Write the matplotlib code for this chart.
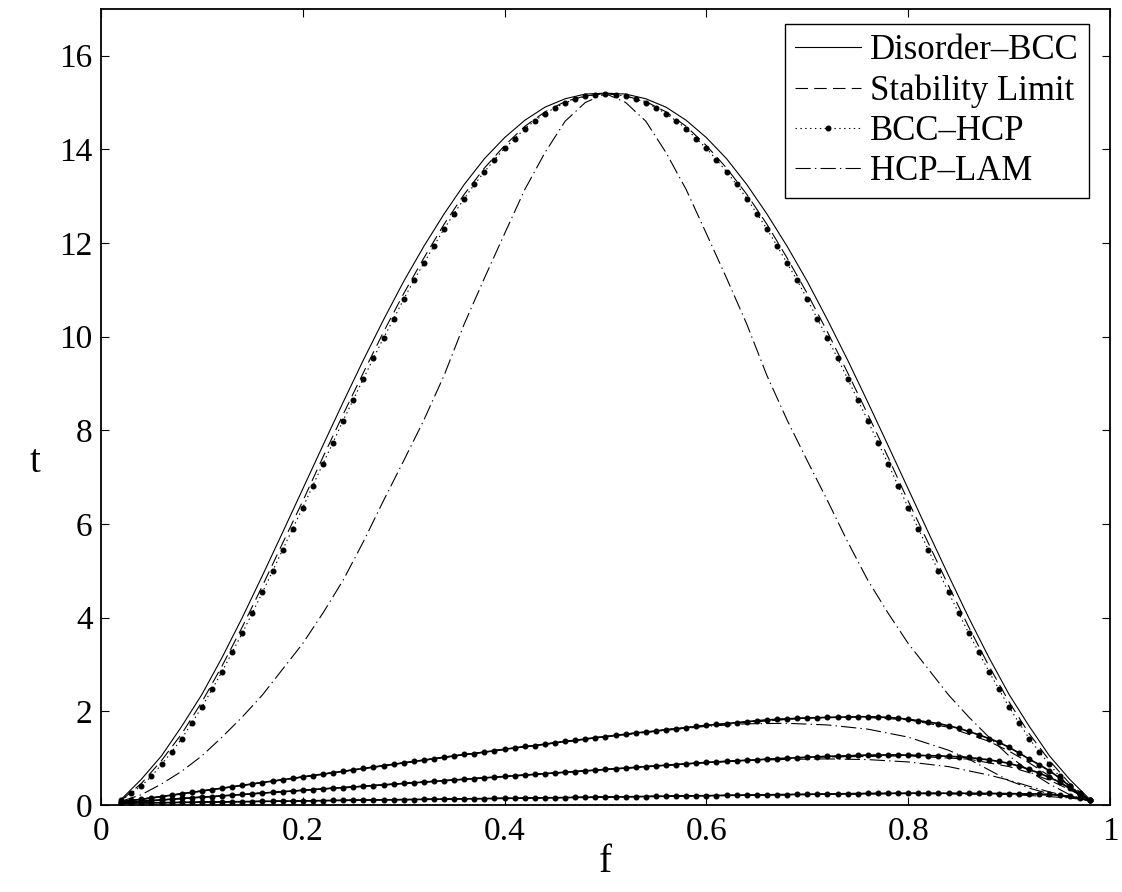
import numpy as np
import matplotlib
matplotlib.use("Agg")
import matplotlib.pyplot as plt
from matplotlib.lines import Line2D

# --- data ---
# fine grid used for the BCC-HCP (dotted + marker) curves
f_fine = np.round(np.arange(0.02, 0.9801, 0.01), 2)

bcc_hcp_top = [0.10, 0.25, 0.41, 0.61, 0.87, 1.13, 1.42, 1.75, 2.09, 2.47,
               2.85, 3.26, 3.67, 4.10, 4.54, 4.99, 5.45, 5.90, 6.35, 6.82,
               7.29, 7.74, 8.21, 8.65, 9.10, 9.54, 9.97, 10.38, 10.80, 11.20,
               11.57, 11.94, 12.30, 12.63, 12.95, 13.25, 13.52, 13.78, 14.02, 14.23,
               14.44, 14.61, 14.76, 14.89, 14.99, 15.08, 15.13, 15.17, 15.19,
               15.17, 15.13, 15.08, 14.99, 14.89, 14.76, 14.61, 14.44, 14.23, 14.02,
               13.78, 13.52, 13.25, 12.95, 12.63, 12.30, 11.94, 11.57, 11.20, 10.80,
               10.38, 9.97, 9.54, 9.10, 8.65, 8.21, 7.74, 7.29, 6.82, 6.35,
               5.90, 5.45, 4.99, 4.54, 4.10, 3.67, 3.26, 2.85, 2.47, 2.09,
               1.75, 1.42, 1.13, 0.87, 0.61, 0.41, 0.25, 0.10]

bcc_hcp_a = [0.07, 0.10, 0.12, 0.15, 0.18, 0.21, 0.24, 0.27, 0.30, 0.33,
             0.36, 0.39, 0.42, 0.45, 0.48, 0.51, 0.54, 0.57, 0.60, 0.63,
             0.66, 0.69, 0.72, 0.75, 0.78, 0.81, 0.84, 0.87, 0.90, 0.93,
             0.96, 0.99, 1.02, 1.05, 1.08, 1.10, 1.13, 1.16, 1.19, 1.22,
             1.25, 1.27, 1.30, 1.33, 1.36, 1.38, 1.41, 1.44, 1.46, 1.49,
             1.51, 1.54, 1.56, 1.58, 1.61, 1.63, 1.65, 1.68, 1.70, 1.72,
             1.74, 1.76, 1.78, 1.80, 1.815, 1.83, 1.84, 1.85, 1.86, 1.865,
             1.87, 1.875, 1.88, 1.885, 1.885, 1.88, 1.87, 1.855, 1.83, 1.80,
             1.77, 1.74, 1.69, 1.64, 1.57, 1.50, 1.42, 1.34, 1.23, 1.11,
             0.98, 0.86, 0.73, 0.58, 0.40, 0.24, 0.11]

bcc_hcp_b = [0.05, 0.065, 0.08, 0.095, 0.11, 0.125, 0.14, 0.155, 0.17, 0.18,
             0.195, 0.21, 0.225, 0.24, 0.255, 0.27, 0.285, 0.30, 0.315, 0.33,
             0.345, 0.36, 0.37, 0.385, 0.40, 0.415, 0.43, 0.445, 0.46, 0.475,
             0.49, 0.505, 0.52, 0.535, 0.55, 0.565, 0.58, 0.595, 0.61, 0.625,
             0.64, 0.655, 0.67, 0.685, 0.70, 0.715, 0.73, 0.745, 0.76, 0.775,
             0.79, 0.805, 0.82, 0.835, 0.85, 0.865, 0.88, 0.895, 0.91, 0.92,
             0.935, 0.945, 0.955, 0.965, 0.98, 0.99, 1.00, 1.01, 1.02, 1.03,
             1.04, 1.045, 1.05, 1.06, 1.065, 1.065, 1.07, 1.07, 1.065, 1.06,
             1.055, 1.05, 1.04, 1.03, 1.015, 0.99, 0.965, 0.93, 0.89, 0.83,
             0.76, 0.68, 0.59, 0.49, 0.36, 0.22, 0.10]

bcc_hcp_c = [0.040, 0.043, 0.045, 0.048, 0.051, 0.053, 0.056, 0.059, 0.062, 0.064,
             0.067, 0.070, 0.072, 0.075, 0.078, 0.081, 0.083, 0.086, 0.089, 0.091,
             0.094, 0.097, 0.100, 0.102, 0.105, 0.108, 0.110, 0.113, 0.116, 0.118,
             0.121, 0.124, 0.127, 0.129, 0.132, 0.135, 0.137, 0.140, 0.143, 0.145,
             0.148, 0.151, 0.154, 0.156, 0.159, 0.162, 0.164, 0.167, 0.170, 0.173,
             0.176, 0.179, 0.182, 0.185, 0.188, 0.191, 0.194, 0.197, 0.200, 0.203,
             0.206, 0.209, 0.212, 0.215, 0.218, 0.221, 0.224, 0.227, 0.230, 0.233,
             0.236, 0.239, 0.242, 0.245, 0.247, 0.249, 0.250, 0.251, 0.252, 0.252,
             0.252, 0.252, 0.252, 0.251, 0.250, 0.249, 0.248, 0.246, 0.244, 0.241,
             0.238, 0.234, 0.225, 0.210, 0.185, 0.145, 0.100]

# coarse grid for the large family (solid / dashed / dash-dot)
f_coarse = np.round(np.arange(0.02, 0.9801, 0.02), 2)

disorder_top = [0.12, 0.55, 1.05, 1.68, 2.36, 3.15, 4.00, 4.90, 5.82, 6.75,
                7.68, 8.60, 9.50, 10.36, 11.18, 11.93, 12.62, 13.25, 13.80, 14.25,
                14.62, 14.90, 15.08, 15.18, 15.20,
                15.18, 15.08, 14.90, 14.62, 14.25, 13.80, 13.25, 12.62, 11.93, 11.18,
                10.36, 9.50, 8.60, 7.68, 6.75, 5.82, 4.90, 4.00, 3.15, 2.36,
                1.68, 1.05, 0.55, 0.12]

stability_top = [0.10, 0.46, 0.95, 1.52, 2.20, 2.97, 3.80, 4.68, 5.59, 6.49,
                 7.43, 8.34, 9.23, 10.10, 10.92, 11.68, 12.40, 13.04, 13.60, 14.08,
                 14.49, 14.80, 15.02, 15.14, 15.19,
                 15.14, 15.02, 14.80, 14.49, 14.08, 13.60, 13.04, 12.40, 11.68, 10.92,
                 10.10, 9.23, 8.34, 7.43, 6.49, 5.59, 4.68, 3.80, 2.97, 2.20,
                 1.52, 0.95, 0.46, 0.10]

hcp_lam_top = [0.08, 0.22, 0.45, 0.72, 1.05, 1.45, 1.88, 2.35, 2.90, 3.45,
               4.10, 4.80, 5.62, 6.50, 7.35, 8.22, 9.17, 10.27, 11.25, 12.20,
               13.14, 13.93, 14.60, 15.00, 15.19,
               15.00, 14.60, 13.93, 13.14, 12.20, 11.25, 10.27, 9.17, 8.22, 7.35,
               6.50, 5.62, 4.80, 4.10, 3.45, 2.90, 2.35, 1.88, 1.45, 1.05,
               0.72, 0.45, 0.22, 0.08]

# lower families: dashed (stability) and dash-dot (HCP-LAM) companions
f_stab_a = [0.02, 0.10, 0.20, 0.30, 0.40, 0.50, 0.60, 0.70, 0.75, 0.80, 0.84, 0.88, 0.90, 0.92, 0.94, 0.96, 0.98]
stab_a = [0.07, 0.30, 0.60, 0.90, 1.19, 1.46, 1.70, 1.86, 1.88, 1.82, 1.66, 1.36, 1.15, 0.90, 0.62, 0.35, 0.10]
f_lam_a = [0.02, 0.10, 0.20, 0.30, 0.40, 0.50, 0.55, 0.60, 0.64, 0.68, 0.72, 0.76, 0.80, 0.84, 0.86, 0.88, 0.90, 0.92, 0.94, 0.96, 0.98]
lam_a = [0.07, 0.30, 0.60, 0.90, 1.19, 1.46, 1.575, 1.68, 1.735, 1.745, 1.71, 1.62, 1.45, 1.17, 0.98, 0.75, 0.52, 0.36, 0.24, 0.16, 0.10]

f_stab_b = [0.02, 0.20, 0.40, 0.60, 0.70, 0.80, 0.86, 0.90, 0.92, 0.94, 0.96, 0.98]
stab_b = [0.05, 0.315, 0.61, 0.91, 1.02, 1.05, 0.98, 0.82, 0.69, 0.53, 0.33, 0.10]
f_lam_b = [0.02, 0.20, 0.40, 0.60, 0.64, 0.68, 0.72, 0.76, 0.80, 0.84, 0.88, 0.90, 0.92, 0.94, 0.96, 0.98]
lam_b = [0.05, 0.315, 0.61, 0.905, 0.95, 0.975, 0.985, 0.97, 0.92, 0.82, 0.64, 0.53, 0.40, 0.28, 0.18, 0.10]

f_c_aux = [0.02, 0.30, 0.60, 0.80, 0.90, 0.94, 0.96, 0.98]
stab_c = [0.04, 0.116, 0.20, 0.25, 0.24, 0.21, 0.17, 0.10]
lam_c = [0.04, 0.116, 0.20, 0.245, 0.225, 0.18, 0.15, 0.10]

labels = ["Disorder\u2013BCC", "Stability Limit", "BCC\u2013HCP", "HCP\u2013LAM"]

# --- styling (MATLAB-ish look) ---
plt.rcParams["font.family"] = ["Liberation Serif", "DejaVu Serif"]
plt.rcParams["lines.scale_dashes"] = False

DASHED = (0, (9, 4.5))
DASHDOT = (0, (11, 3, 1, 3))
DOTTED = (0, (1, 2.5))
LW = 0.8
MS = 3.3

fig = plt.figure(figsize=(11.22, 8.92), dpi=100)
ax = fig.add_axes([0.090, 0.0975, 0.8993, 0.8926])

# large family
ax.plot(f_coarse, disorder_top, color="k", lw=LW, ls="-")
ax.plot(f_coarse, stability_top, color="k", lw=LW, ls=DASHED)
ax.plot(f_coarse, hcp_lam_top, color="k", lw=LW, ls=DASHDOT)
ax.plot(f_fine, bcc_hcp_top, color="k", lw=LW, ls=DOTTED, marker="o", ms=MS)

# lower families
ax.plot(f_stab_a, stab_a, color="k", lw=LW, ls=DASHED)
ax.plot(f_lam_a, lam_a, color="k", lw=LW, ls=DASHDOT)
ax.plot(f_stab_b, stab_b, color="k", lw=LW, ls=DASHED)
ax.plot(f_lam_b, lam_b, color="k", lw=LW, ls=DASHDOT)
ax.plot(f_c_aux, stab_c, color="k", lw=LW, ls=DASHED)
ax.plot(f_c_aux, lam_c, color="k", lw=LW, ls=DASHDOT)
for series in (bcc_hcp_a, bcc_hcp_b, bcc_hcp_c):
    ax.plot(f_fine, series, color="k", lw=1.2, ls="-")
    ax.plot(f_fine, series, color="k", lw=LW, ls=DOTTED, marker="o", ms=MS)

ax.set_xlim(0, 1)
ax.set_ylim(0, 17)
ax.set_xticks([0, 0.2, 0.4, 0.6, 0.8, 1])
ax.set_xticklabels(["0", "0.2", "0.4", "0.6", "0.8", "1"])
ax.set_yticks(range(0, 17, 2))
ax.tick_params(direction="in", top=True, right=True, length=6, width=0.8,
               labelsize=24)
ax.tick_params(axis="x", pad=8)
ax.tick_params(axis="y", pad=6)
for sp in ax.spines.values():
    sp.set_linewidth(1.3)

ax.set_xlabel("f", fontsize=28, labelpad=-2)
ax.set_ylabel("t", fontsize=28, rotation=0, labelpad=0, va="center")
ax.yaxis.set_label_coords(-0.065, 0.43)

handles = [
    Line2D([], [], color="k", lw=LW, ls="-"),
    Line2D([], [], color="k", lw=LW, ls=DASHED),
    Line2D([], [], color="k", lw=LW, ls=DOTTED, marker="o", ms=MS),
    Line2D([], [], color="k", lw=LW, ls=DASHDOT),
]
leg = ax.legend(handles, labels, loc="upper right", bbox_to_anchor=(0.979, 0.981),
                borderaxespad=0, fontsize=25, frameon=True, fancybox=False,
                framealpha=1, edgecolor="k", handlelength=1.9, handletextpad=0.25,
                labelspacing=0.2, borderpad=0.3, numpoints=1)
leg.get_frame().set_linewidth(1.0)

fig.savefig("out.png", dpi=100)
